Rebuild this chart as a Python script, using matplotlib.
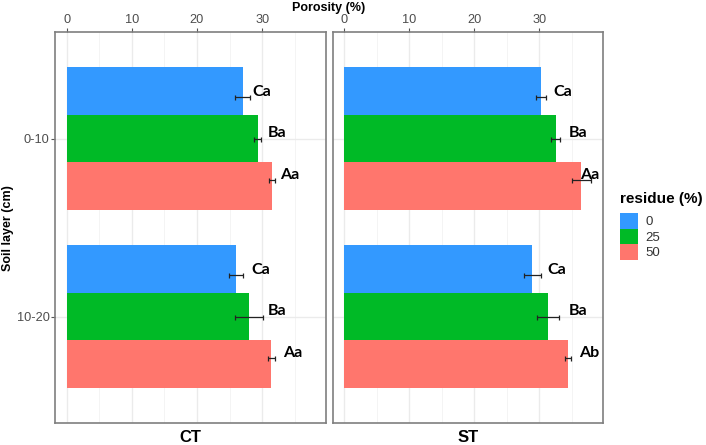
import matplotlib
matplotlib.use("Agg")
import matplotlib.pyplot as plt
import numpy as np

plt.rcParams['font.family'] = ['Liberation Sans', 'DejaVu Sans']

# data
layers = ['0-10', '10-20']
residues = ['0', '25', '50']
systems = ['CT', 'ST']

# porosity means, rows = layer, columns = residue
ct_mean = [[27.0, 29.3, 31.5],
           [26.0, 28.0, 31.4]]
ct_err = [[1.1, 0.5, 0.5],
          [1.05, 2.15, 0.5]]
st_mean = [[30.2, 32.5, 36.4],
           [28.9, 31.3, 34.4]]
st_err = [[0.75, 0.7, 1.45],
          [1.33, 1.66, 0.5]]

ct_letters = [['Ca', 'Ba', 'Aa'], ['Ca', 'Ba', 'Aa']]
st_letters = [['Ca', 'Ba', 'Aa'], ['Ca', 'Ba', 'Ab']]

# where the letters sit along x
ct_label_x = [[29.9, 32.3, 34.3], [29.8, 32.3, 34.7]]
st_label_x = [[33.5, 35.9, 37.7], [32.6, 35.9, 37.6]]

colors = ['#3399FF', '#00BA26', '#FF766D']
grey_txt = '#4d4d4d'

fig = plt.figure(figsize=(7.06, 4.45), dpi=100)
W, H = 706, 445


def px_axes(x0, y0, x1, y1):
    return fig.add_axes([x0 / W, 1 - y1 / H, (x1 - x0) / W, (y1 - y0) / H])


ax_ct = px_axes(55.3, 31.7, 326, 423.3)
ax_st = px_axes(332.7, 31.7, 603.3, 423.3)

bar_w = 0.8 / 3
err_dodge = 0.7 / 3

panels = [(ax_ct, ct_mean, ct_err, ct_letters, ct_label_x, 'CT'),
          (ax_st, st_mean, st_err, st_letters, st_label_x, 'ST')]

for ax, means, errs, letters, lab_x, name in panels:
    ypos = np.arange(len(layers))
    for j, res in enumerate(residues):
        vals = [means[i][j] for i in range(len(layers))]
        ee = [errs[i][j] for i in range(len(layers))]
        ax.barh(ypos + (j - 1) * bar_w, vals, height=bar_w, color=colors[j],
                label=res, zorder=2)
        ax.errorbar(vals, ypos + (j - 1) * err_dodge, xerr=ee, fmt='none',
                    ecolor='#222222', elinewidth=0.9, capsize=1.8,
                    capthick=0.9, zorder=3)
        for i in range(len(layers)):
            ax.text(lab_x[i][j], ypos[i] + (j - 1) * err_dodge - 0.03,
                    letters[i][j], ha='center', va='center', fontsize=11.5,
                    fontweight='bold', family=['Lato', 'DejaVu Sans'],
                    zorder=4)

    ax.set_xlim(-1.74, 39.8)
    ax.set_ylim(1.6, -0.6)
    ax.set_xticks([0, 10, 20, 30])
    ax.set_xticks([5, 15, 25, 35], minor=True)
    ax.set_yticks(ypos)
    ax.xaxis.tick_top()
    ax.grid(which='major', color='#ebebeb', linewidth=1.0, zorder=0)
    ax.grid(which='minor', axis='x', color='#f2f2f2', linewidth=0.6, zorder=0)
    ax.set_axisbelow(True)
    ax.tick_params(axis='x', which='major', direction='out', length=2.75,
                   width=0.8, color='#555555', labelsize=9.2,
                   labelcolor=grey_txt, pad=1.2)
    ax.tick_params(axis='x', which='minor', length=0)
    for sp in ax.spines.values():
        sp.set_color('#7f7f7f')
        sp.set_linewidth(1.2)
    ax.text(0.5, -0.016, name, transform=ax.transAxes, ha='center', va='top',
            fontsize=12, fontweight='bold')

ax_ct.set_yticklabels(layers)
ax_ct.tick_params(axis='y', direction='out', length=2.75, width=0.8,
                  color='#555555', labelsize=9.2, labelcolor=grey_txt, pad=1.5)
ax_st.tick_params(axis='y', length=0, labelleft=False)

fig.text(329 / W, 1 - 7.5 / H, 'Porosity (%)', ha='center', va='center',
         fontsize=9, fontweight='bold')
fig.text(8.5 / W, 1 - 228 / H, 'Soil layer (cm)', ha='center', va='center',
         rotation=90, fontsize=9, fontweight='bold')

handles, labs = ax_st.get_legend_handles_labels()
leg = fig.legend(handles, labs, title='residue (%)', loc='upper left',
                 bbox_to_anchor=(620 / W, 1 - 192 / H), frameon=False,
                 fontsize=9.5, title_fontproperties={'weight': 'bold', 'size': 11},
                 handlelength=1.4, handleheight=1.45, handletextpad=0.55,
                 labelspacing=0.0, borderaxespad=0, borderpad=0)
leg._legend_box.align = 'left'
leg._legend_box.sep = 5
for t in leg.get_texts():
    t.set_color('#333333')

fig.savefig('out.png', dpi=100)
